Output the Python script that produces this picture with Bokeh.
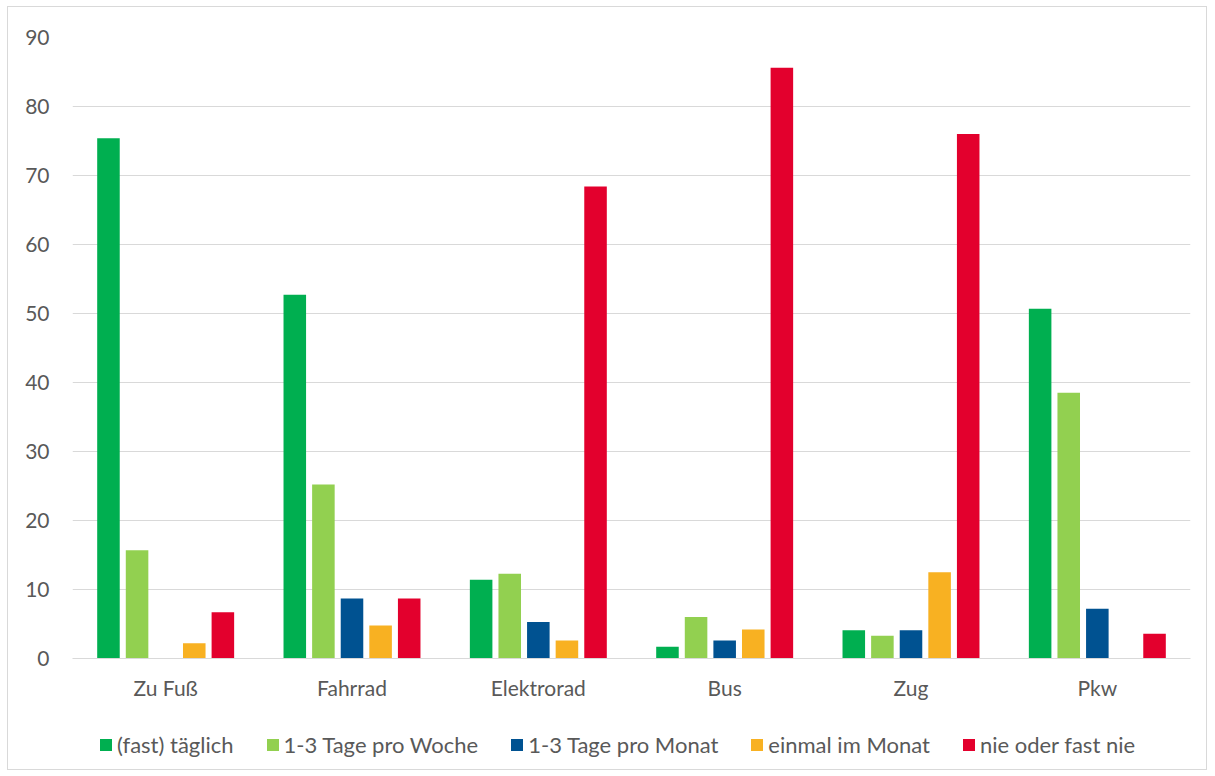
from bokeh.plotting import figure
from bokeh.layouts import column
from bokeh.models import FactorRange, Range1d, Legend, LegendItem, ColumnDataSource, FixedTicker
from bokeh.transform import dodge
from bokeh.embed import file_html
from bokeh.resources import INLINE

categories = ["Zu Fuß", "Fahrrad", "Elektrorad", "Bus", "Zug", "Pkw"]
series_names = ["(fast) täglich", "1-3 Tage pro Woche", "1-3 Tage pro Monat",
                "einmal im Monat", "nie oder fast nie"]
taeglich = [75.4, 52.7, 11.4, 1.7, 4.1, 50.7]
woche = [15.7, 25.2, 12.3, 6.0, 3.3, 38.5]
monat = [0.0, 8.7, 5.3, 2.6, 4.1, 7.2]
einmal = [2.2, 4.8, 2.6, 4.2, 12.5, 0.0]
nie = [6.7, 8.7, 68.4, 85.6, 76.0, 3.6]
colors = ["#00AF50", "#92D050", "#005291", "#F8B122", "#E3002D"]
y_ticks = [0, 10, 20, 30, 40, 50, 60, 70, 80, 90]

FONT = "Lato"
FS = "21px"
TXT = "#595959"

source = ColumnDataSource(dict(cat=categories, s0=taeglich, s1=woche, s2=monat, s3=einmal, s4=nie))

step = 0.1535
bw = 0.121

# main chart
p = figure(width=1198, height=700, x_range=FactorRange(*categories), y_range=Range1d(0, 90),
           output_backend="svg", toolbar_location=None,
           min_border_left=64, min_border_right=16, min_border_top=30, min_border_bottom=49)
p.background_fill_color = "white"
p.border_fill_color = "white"
p.outline_line_color = None

for i, name in enumerate(series_names):
    p.vbar(x=dodge("cat", (i - 2) * step, range=p.x_range), top=f"s{i}", width=bw,
           source=source, fill_color=colors[i], line_color=None)

p.xgrid.grid_line_color = None
p.ygrid.grid_line_color = "#D9D9D9"
p.ygrid.grid_line_width = 1

p.yaxis.ticker = FixedTicker(ticks=y_ticks)
p.yaxis.axis_line_color = None
p.yaxis.major_tick_line_color = None
p.yaxis.major_tick_out = 0
p.yaxis.minor_tick_line_color = None
p.yaxis.minor_tick_out = 0
p.yaxis.major_label_standoff = 23
p.yaxis.major_label_text_font = FONT
p.yaxis.major_label_text_font_size = FS
p.yaxis.major_label_text_color = TXT

p.xaxis.axis_line_color = "#D9D9D9"
p.xaxis.axis_line_width = 1
p.xaxis.major_tick_line_color = None
p.xaxis.major_tick_out = 0
p.xaxis.minor_tick_line_color = None
p.xaxis.minor_tick_out = 0
p.xaxis.major_label_standoff = 16
p.xaxis.major_label_text_font = FONT
p.xaxis.major_label_text_font_size = FS
p.xaxis.major_label_text_color = TXT

# legend strip: same series as hidden renderers, only the legend entries show
q = figure(width=1198, height=62, x_range=FactorRange(*categories), y_range=Range1d(0, 90),
           output_backend="svg", toolbar_location=None,
           min_border_left=64, min_border_right=16, min_border_top=0, min_border_bottom=0)
q.axis.visible = False
q.grid.visible = False
q.outline_line_color = None
q.background_fill_color = "white"
q.border_fill_color = "white"
legend_renderers = []
for i, name in enumerate(series_names):
    r = q.vbar(x=dodge("cat", (i - 2) * step, range=q.x_range), top=f"s{i}", width=bw,
               source=source, fill_color=colors[i], line_color=None, visible=False)
    legend_renderers.append(r)

legend = Legend(items=[LegendItem(label=n, renderers=[r]) for n, r in zip(series_names, legend_renderers)],
                orientation="horizontal", location=(26, 11), click_policy="none",
                glyph_width=15, glyph_height=15, label_standoff=4, spacing=31,
                padding=0, margin=0, border_line_color=None, background_fill_alpha=0,
                label_text_font=FONT, label_text_font_size="22px", label_text_color=TXT,
                label_height=20)
q.add_layout(legend, "center")

layout = column(p, q, spacing=0)
layout.styles = {"border": "1px solid #D9D9D9", "margin-left": "7px", "margin-top": "6px"}

open("out.html", "w").write(file_html(layout, INLINE))
